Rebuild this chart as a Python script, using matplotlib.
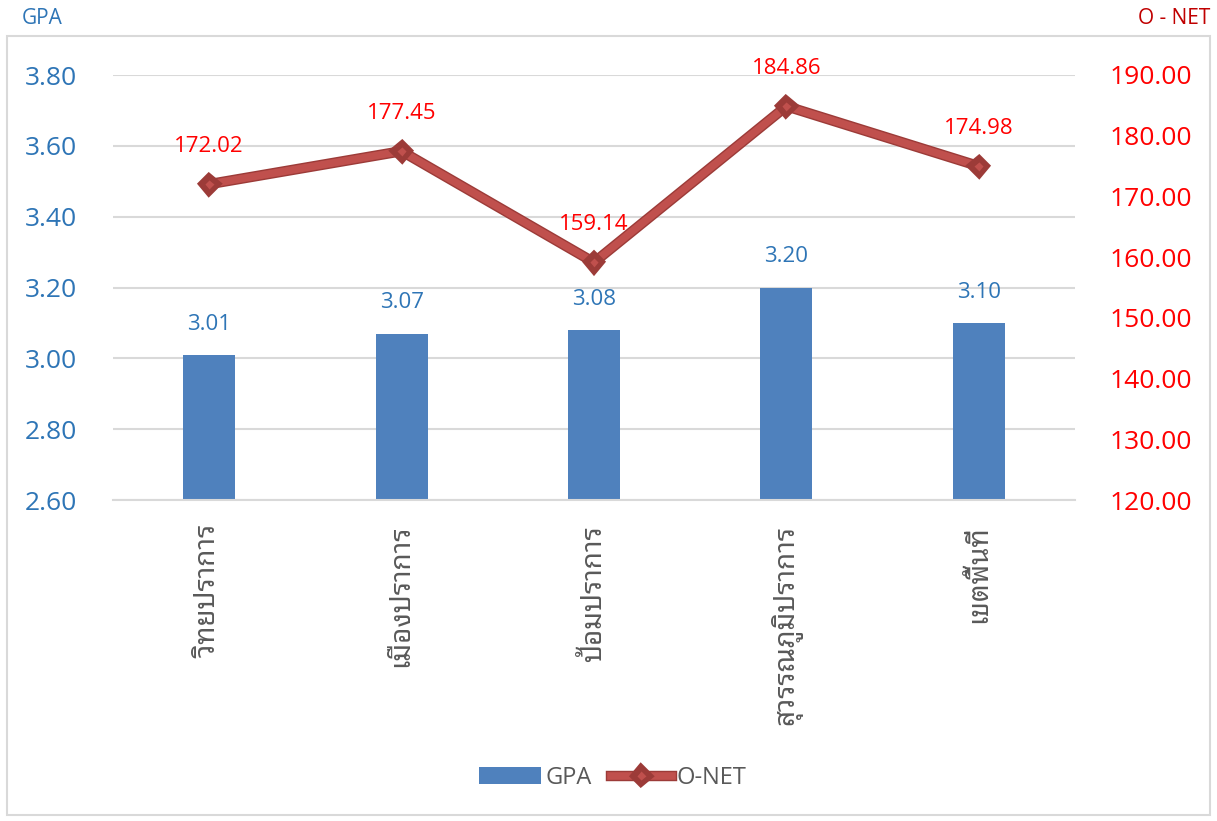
import matplotlib
matplotlib.use("Agg")
import matplotlib.pyplot as plt
import matplotlib.patheffects as pe
from matplotlib import font_manager
from matplotlib.patches import Rectangle

# data
schools = ["วิทยปราการ", "เมืองปราการ", "ป้อมปราการ", "สุวรรณภูมิปราการ", "เขตพื้นที่"]
gpa = [3.01, 3.07, 3.08, 3.20, 3.10]
onet = [172.02, 177.45, 159.14, 184.86, 174.98]
gpa_ticks = [2.60, 2.80, 3.00, 3.20, 3.40, 3.60, 3.80]
onet_ticks = [120, 130, 140, 150, 160, 170, 180, 190]

# pick a (looped) Thai font that is installed
names = set(f.name for f in font_manager.fontManager.ttflist)
thai = "DejaVu Sans"
for cand in ["Noto Sans Thai Looped", "Sarabun", "Niramit", "Noto Sans Thai", "Athiti"]:
    if cand in names:
        thai = cand
        break
plt.rcParams['font.family'] = ["Open Sans", thai, "DejaVu Sans"]

blue = '#2e75b6'
red = '#ff0000'
bar_col = '#4f81bd'
line_col = '#c0504d'
grid_col = '#d9d9d9'
gray = '#595959'

fig = plt.figure(figsize=(12.17, 8.21), dpi=100)
ax = fig.add_axes([113/1217, 1-500/821, (1075-113)/1217, (500-75)/821])
ax2 = ax.twinx()

x = range(len(schools))
ax.bar(x, gpa, width=0.27, color=bar_col, zorder=2)
ax.set_ylim(2.6, 3.8)
ax.set_xlim(-0.5, 4.5)
ax.set_yticks(gpa_ticks)
ax.set_yticklabels(["%.2f" % v for v in gpa_ticks], color=blue, fontsize=19)
ax.set_xticks(list(x))
ax.set_xticklabels(schools, rotation=90, color=gray, fontsize=20, va='top', ha='center',
                   family=[thai, "DejaVu Sans"])
ax.tick_params(axis='y', length=0, pad=26)
ax.tick_params(axis='x', length=0, pad=18)
ax.grid(axis='y', color=grid_col, linewidth=1.5, zorder=0)
ax.set_axisbelow(True)
for s in ['top', 'left', 'right']:
    ax.spines[s].set_visible(False)
ax.spines['bottom'].set_color(grid_col)
ax.spines['bottom'].set_linewidth(1.5)

for i, v in enumerate(gpa):
    ax.annotate("%.2f" % v, (i, v), xytext=(0, 22), textcoords='offset points',
                ha='center', va='center', color=blue, fontsize=16)

ax2.plot(list(x), onet, color=line_col, linewidth=5.5, marker='D', markersize=5.5,
         markerfacecolor=line_col, markeredgecolor='#9c3b38', markeredgewidth=1,
         path_effects=[pe.Stroke(linewidth=7.5, foreground='#9c3b38'), pe.Normal()],
         zorder=3)
ax2.set_ylim(120, 190)
ax2.set_yticks(onet_ticks)
ax2.set_yticklabels(["%.2f" % v for v in onet_ticks], color=red, fontsize=19)
ax2.tick_params(axis='y', length=0, pad=25)
for s in ax2.spines.values():
    s.set_visible(False)
ax2.set_xlim(-0.5, 4.5)

for i, v in enumerate(onet):
    ax2.annotate("%.2f" % v, (i, v), xytext=(0, 27), textcoords='offset points',
                 ha='center', va='center', color=red, fontsize=16)

# axis titles on top
fig.text(22/1217, 1-19/821, "GPA", color=blue, fontsize=15, ha='left', va='center')
fig.text(1210/1217, 1-19/821, "O - NET", color='#c00000', fontsize=15, ha='right', va='center')

# outer border
fig.patches.append(Rectangle((7/1217, 1-815/821), (1210-7)/1217, (815-36)/821,
                             transform=fig.transFigure, fill=False,
                             edgecolor=grid_col, linewidth=1.5))

# legend
bars = ax.containers[0]
line = ax2.get_lines()[0]
fig.legend([bars, line], ["GPA", "O-NET"], loc='center', bbox_to_anchor=(613/1217, 1-778/821),
           ncol=2, frameon=False, fontsize=17, labelcolor=gray, handlelength=2.6,
           handletextpad=0.2, columnspacing=0.8)

fig.savefig("out.png")
